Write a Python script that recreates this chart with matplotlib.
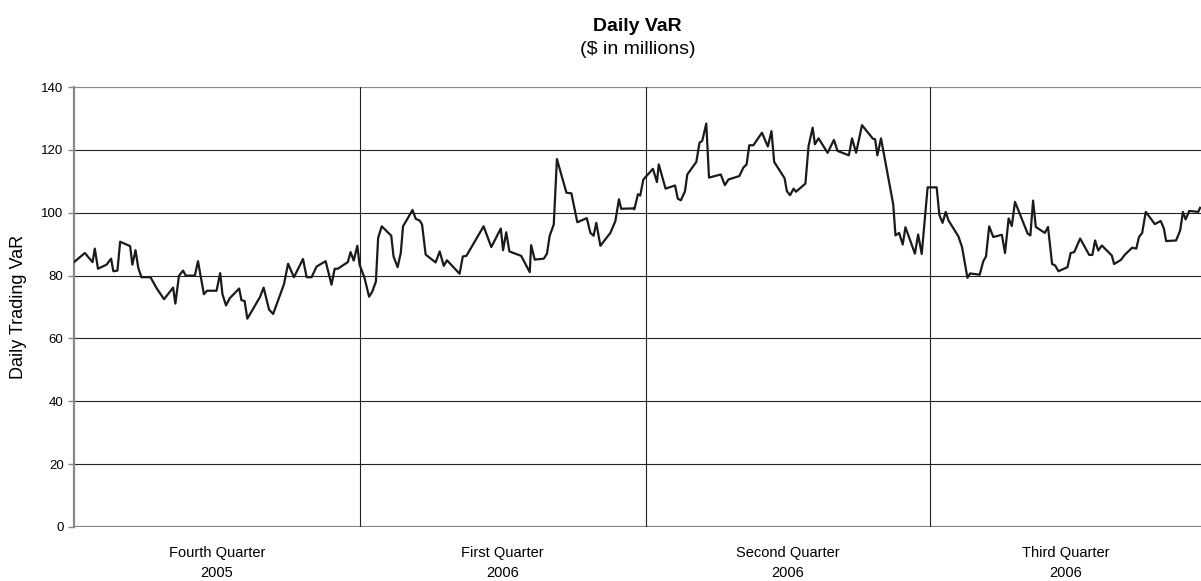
import matplotlib
matplotlib.use("Agg")
import matplotlib.pyplot as plt

plt.rcParams["font.family"] = ["Liberation Sans", "DejaVu Sans"]

# trading day index (approx.) and daily VaR
days = [0, 2.4, 4.1, 4.6, 5.3, 7.2, 8.2, 8.7, 9.6, 10.2, 12.4, 12.9, 13.6, 14.2,
        14.9, 16.9, 18.3, 19.9, 21.9, 22.4, 23.2, 24.1, 24.7, 26.7, 27.4, 28.7,
        29.4, 31.5, 32.3, 32.8, 33.6, 34.4, 36.5, 37.0, 37.7, 38.3, 41.1, 41.9,
        43.1, 44.0, 46.4, 47.3, 48.6, 50.6, 51.4, 52.5, 53.6, 55.6, 56.9, 57.6,
        58.3, 60.5, 61.1, 61.8, 62.6,
        63.1, 64.2, 65.2, 65.9, 66.7, 67.2, 68.0, 70.1, 70.6, 71.5, 72.2, 72.7,
        74.8, 75.5, 76.4, 76.9, 77.7, 79.9, 80.8, 81.7, 82.4, 85.2, 85.9, 86.7,
        90.5, 92.2, 94.3, 94.8, 95.5, 96.2, 98.8, 100.7, 101.0, 101.8, 103.8,
        104.5, 105.1, 106.0, 106.7, 108.8, 109.9, 111.2, 113.3, 114.1, 114.8,
        115.4, 116.3, 118.5, 119.6, 120.4, 120.9, 123.6, 123.8, 124.6, 125.1,
        125.8, 127.9, 128.8, 129.2, 130.7, 132.8, 133.4, 134.1, 135.0, 135.5,
        137.5, 138.2, 138.8, 139.7, 140.3, 142.9, 143.8, 144.6, 147.0, 147.9,
        148.6, 149.2, 150.1, 152.0, 153.3, 154.1, 154.7, 157.0, 157.5, 158.2,
        159.0, 159.5, 161.6, 162.3, 163.2, 163.7, 164.5, 166.5, 167.9, 168.7,
        171.2, 171.9, 172.8, 174.1, 176.5, 177.0, 177.5, 178.3, 181.0, 181.5,
        182.3, 183.1, 183.7, 185.8, 186.5, 187.3,
        188.6, 190.6, 191.2, 191.9, 192.6, 193.2, 195.4, 196.2, 197.4, 198.0,
        200.1, 200.9, 201.5, 202.2, 203.1, 205.0, 205.7, 206.5, 207.2, 207.9,
        210.7, 211.3, 211.9, 212.5, 214.5, 215.2, 216.1, 216.8, 217.5, 219.5,
        220.2, 221.0, 222.3, 224.3, 225.0, 225.6, 226.3, 227.1, 229.3, 229.8,
        231.3, 232.2, 233.8, 234.7, 235.3, 236.0, 236.8, 238.8, 240.1, 240.8,
        241.3, 243.5, 244.4, 245.0, 245.6, 246.4, 248.4, 248.8]
var = [84.3, 87.2, 84.3, 88.6, 82.2, 83.5, 85.4, 81.4, 81.6, 90.8, 89.4, 83.5,
       88.1, 82.5, 79.5, 79.5, 75.9, 72.5, 76.2, 71.1, 80.0, 81.6, 80.0, 80.0,
       84.6, 74.1, 75.2, 75.2, 80.8, 74.1, 70.5, 72.8, 75.9, 72.2, 71.9, 66.3,
       73.2, 76.2, 69.2, 67.8, 77.3, 83.8, 79.5, 85.3, 79.5, 79.5, 82.9, 84.6,
       77.1, 82.2, 82.2, 84.3, 87.5, 84.8, 89.5,
       83.5, 79.2, 73.3, 74.9, 78.1, 92.0, 95.7, 92.7, 86.1, 82.7, 87.2, 95.7,
       100.9, 98.1, 97.5, 96.3, 86.7, 84.2, 87.7, 83.1, 84.9, 80.6, 86.1, 86.3,
       95.7, 89.1, 95.0, 88.1, 93.8, 87.7, 86.3, 81.1, 89.7, 85.1, 85.4, 87.0,
       92.7, 96.3, 117.1, 106.4, 106.2, 97.0, 98.3, 93.6, 92.7, 96.8, 89.5,
       93.6, 97.3, 104.3, 101.3, 101.4, 101.1, 105.9, 105.5,
       110.6, 114.0, 109.8, 115.4, 107.7, 108.7, 104.5, 104.0, 106.9, 112.2,
       116.2, 122.3, 122.9, 128.4, 111.2, 112.2, 108.8, 110.6, 111.7, 114.4,
       115.4, 121.5, 121.5, 125.5, 121.1, 126.0, 116.2, 111.0, 106.9, 105.6,
       107.7, 106.7, 109.3, 121.3, 127.1, 121.8, 123.7, 119.1, 123.2, 119.7,
       118.3, 123.7, 119.1, 127.9, 123.6, 123.4, 118.3, 123.7, 102.7, 92.8,
       93.6, 89.9, 95.4, 87.0, 93.1, 86.9,
       108.1, 108.1, 99.3, 96.8, 100.3, 97.6, 92.5, 89.1, 79.3, 80.7,
       80.3, 84.6, 86.1, 95.7, 92.3, 93.0, 87.2, 98.2, 95.8, 103.5,
       93.4, 92.8, 103.9, 95.5, 93.6, 95.5, 83.7, 83.2, 81.4, 82.7,
       87.2, 87.5, 91.8, 86.6, 86.6, 91.2, 88.0, 89.6, 86.4, 83.7,
       85.0, 86.7, 88.9, 88.6, 92.3, 93.6, 100.3, 96.4, 97.4, 95.0,
       91.0, 91.2, 94.4, 100.3, 97.9, 100.6, 100.3, 101.6]

quarter_edges = [0, 63.1, 126.3, 189.2, 249]
quarter_labels = ["Fourth Quarter\n2005", "First Quarter\n2006",
                  "Second Quarter\n2006", "Third Quarter\n2006"]

fig = plt.figure(figsize=(12.01, 5.81), dpi=100)
ax = fig.add_axes([0.0616, 0.093, 0.9384, 0.757])

for y in range(20, 140, 20):
    ax.axhline(y, color="#222222", linewidth=0.8, zorder=1)
ax.axhline(140, color="#888888", linewidth=1.6, zorder=1)
ax.axhline(0, color="#888888", linewidth=1.6, zorder=1)
for x in quarter_edges[1:-1]:
    ax.axvline(x, color="#222222", linewidth=0.8, zorder=1)

ax.plot(days, var, color="#1a1a1a", linewidth=1.6, zorder=3)

ax.set_xlim(quarter_edges[0], quarter_edges[-1])
ax.set_ylim(0, 140)
ax.set_yticks(range(0, 141, 20))
ax.tick_params(axis="y", labelsize=9.5, length=4, color="#888888", width=1)

mids = [(quarter_edges[i] + quarter_edges[i + 1]) / 2 for i in range(4)]
ax.set_xticks(mids)
ax.set_xticklabels(quarter_labels, fontsize=10.5, linespacing=1.5)
ax.tick_params(axis="x", length=0, pad=14)

for side in ["top", "right", "bottom"]:
    ax.spines[side].set_visible(False)
ax.spines["left"].set_color("#888888")
ax.spines["left"].set_linewidth(1.6)

ax.set_ylabel("Daily Trading VaR", fontsize=13, labelpad=10)

fig.text(0.531, 0.955, "Daily VaR", ha="center", va="center",
         fontsize=14, fontweight="bold")
fig.text(0.531, 0.915, "($ in millions)", ha="center", va="center",
         fontsize=14)

fig.savefig("out.png", dpi=100)
